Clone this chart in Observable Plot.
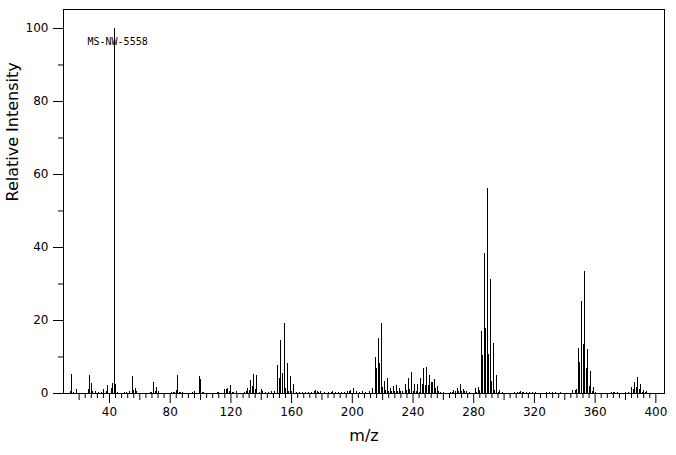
<!DOCTYPE html>
<html>
<head>
<meta charset="utf-8">
<script src="https://cdn.jsdelivr.net/npm/d3@7"></script>
<script src="https://cdn.jsdelivr.net/npm/@observablehq/plot@0.6"></script>
<style>
  html, body { margin: 0; padding: 0; background: #fff; }
  #chart { width: 676px; height: 455px; }
</style>
</head>
<body>
<div id="chart"></div>
<script>
// Data
const sampleId = "MS-NW-5558";
const xLabel = "m/z";
const yLabel = "Relative Intensity";

const mz = [
  14, 15, 16, 18, 26, 27, 28, 29, 31, 33, 35, 36, 38, 39, 41, 42, 43, 44, 45,
  50, 51, 53, 55, 56, 57, 58, 67, 68, 69, 70, 71, 72, 81, 82, 83, 84, 85, 86, 87, 88,
  95, 96, 99, 100, 101, 102, 111, 112, 116, 117, 118, 119, 120, 121, 122, 124,
  129, 130, 131, 132, 133, 134, 135, 136, 137, 139, 140, 141, 143, 145, 147, 149,
  151, 152, 153, 154, 155, 156, 157, 158, 159, 160, 161, 163, 165, 167, 169, 171, 173,
  175, 176, 177, 178, 179, 182, 184, 186, 187, 189, 191, 193, 195, 197, 198, 199,
  201, 203, 205, 207, 209, 211, 213, 215, 216, 217, 218, 219, 220, 221, 222, 223, 224,
  225, 226, 227, 228, 229, 230, 231, 232, 233, 235, 236, 237, 238, 239, 240, 241, 242,
  243, 244, 245, 246, 247, 248, 249, 250, 251, 252, 253, 254, 255, 256, 257, 258, 260,
  265, 266, 267, 268, 269, 270, 271, 272, 273, 274, 275, 277,
  281, 282, 283, 284, 285, 286, 287, 288, 289, 290, 291, 292, 293, 294, 295, 296, 297, 299,
  307, 309, 310, 311, 312, 313, 315, 317, 319, 321, 328, 330, 332, 334, 337,
  345, 347, 348, 349, 350, 351, 352, 353, 354, 355, 356, 357, 358, 359, 360,
  371, 372, 373, 375, 380, 382, 384, 385, 386, 387, 388, 389, 390, 391, 392, 393, 394
];
const intensity = [
  0.6, 5.2, 0.4, 1.0, 1.0, 4.9, 2.7, 0.6, 0.6, 0.3, 0.4, 1.1, 0.6, 2.2, 1.4, 2.8, 100, 2.5, 0.3,
  0.3, 0.3, 0.6, 4.7, 0.8, 1.4, 0.6, 0.3, 0.3, 3.0, 0.6, 1.7, 0.6, 0.3, 0.3, 0.3, 0.8, 5.0, 0.3, 0.3, 0.3,
  0.3, 0.6, 4.7, 3.8, 0.3, 0.3, 0.3, 0.3, 1.1, 1.0, 1.4, 0.6, 2.2, 0.3, 0.3, 0.6,
  0.3, 0.6, 1.4, 0.8, 3.6, 2.0, 5.1, 1.2, 4.9, 0.3, 1.1, 0.6, 0.3, 0.3, 0.6, 0.6,
  7.7, 4.0, 14.5, 5.6, 19.3, 1.3, 8.3, 0.6, 4.7, 0.5, 2.5, 0.3, 0.3, 0.3, 0.3, 0.3, 0.3,
  0.6, 0.8, 0.6, 0.4, 0.6, 0.3, 0.3, 0.3, 0.6, 0.3, 0.3, 0.3, 0.3, 0.6, 0.6, 0.8,
  1.4, 0.6, 0.3, 0.6, 0.3, 0.6, 1.4, 9.9, 6.8, 15.2, 8.3, 19.3, 1.6, 3.4, 0.8, 4.1, 0.6,
  1.5, 0.6, 1.8, 0.6, 2.1, 0.6, 1.5, 0.6, 0.6, 2.5, 0.9, 4.1, 1.2, 5.8, 0.6, 2.5, 0.6,
  2.5, 0.3, 4.1, 2.5, 6.8, 2.1, 7.0, 2.1, 4.8, 3.0, 3.0, 3.8, 1.4, 1.8, 0.6, 0.4, 0.2,
  0.3, 0.4, 0.8, 0.6, 1.5, 0.6, 2.5, 0.6, 1.2, 0.6, 0.6, 0.3,
  1.4, 0.3, 1.6, 0.8, 17.0, 10.4, 38.4, 17.8, 56.2, 10.7, 31.2, 3.3, 13.7, 0.8, 4.9, 0.4, 0.8, 0.3,
  0.3, 0.3, 0.4, 0.5, 0.3, 0.4, 0.3, 0.3, 0.3, 0.3, 0.3, 0.3, 0.3, 0.3, 0.3,
  0.8, 0.8, 1.1, 12.3, 8.5, 25.2, 13.4, 33.4, 6.8, 12.1, 1.8, 6.0, 0.6, 1.6, 0.3,
  0.3, 0.3, 0.3, 0.3, 0.3, 0.3, 1.6, 1.1, 2.9, 1.6, 4.4, 1.1, 2.5, 0.3, 0.8, 0.3, 0.6
];

const xMajorTicks = [40, 80, 120, 160, 200, 240, 280, 320, 360, 400];
const xMidTicks = [20, 60, 100, 140, 180, 220, 260, 300, 340, 380];
const xMinorTicks = d3.range(20, 401, 4).filter(v => v % 20 !== 0);
const yMajorTicks = [0, 20, 40, 60, 80, 100];
const yMinorTicks = [10, 30, 50, 70, 90];

const peaks = mz.map((m, i) => ({mz: m, intensity: intensity[i]}));

const font = "'DejaVu Sans', sans-serif";

const chart = Plot.plot({
  width: 676,
  height: 455,
  marginLeft: 63,
  marginRight: 12,
  marginTop: 9,
  marginBottom: 62,
  style: {fontFamily: font, fontSize: "12px", color: "black", background: "white"},
  x: {domain: [9.7, 405.7]},
  y: {domain: [0, 105.2]},
  marks: [
    Plot.ruleX(peaks, {x: "mz", y1: 0, y2: "intensity", stroke: "black", strokeWidth: 1, shapeRendering: "crispEdges"}),
    Plot.frame({stroke: "black", shapeRendering: "crispEdges"}),
    Plot.axisX(xMajorTicks, {tickSize: 10, tickPadding: 4, label: null, fontSize: 12}),
    Plot.axisX(xMidTicks, {tickSize: 7, tickFormat: () => "", label: null}),
    Plot.axisX(xMinorTicks, {tickSize: 5, tickFormat: () => "", label: null}),
    Plot.axisY(yMajorTicks, {tickSize: 10, tickPadding: 5, label: null, fontSize: 12}),
    Plot.axisY(yMinorTicks, {tickSize: 5, tickFormat: () => "", label: null}),
    Plot.text([sampleId], {frameAnchor: "top-left", dx: 24, dy: 32, lineAnchor: "middle", textAnchor: "start",
      fontFamily: "'DejaVu Sans Mono', monospace", fontSize: 10, fill: "black"}),
    Plot.text([yLabel], {frameAnchor: "left", rotate: -90, dx: -51, fontSize: 16, fill: "black"}),
    Plot.text([xLabel], {frameAnchor: "bottom", dy: 47, fontSize: 16, fill: "black"})
  ]
});

document.getElementById("chart").appendChild(chart);
</script>
</body>
</html>
